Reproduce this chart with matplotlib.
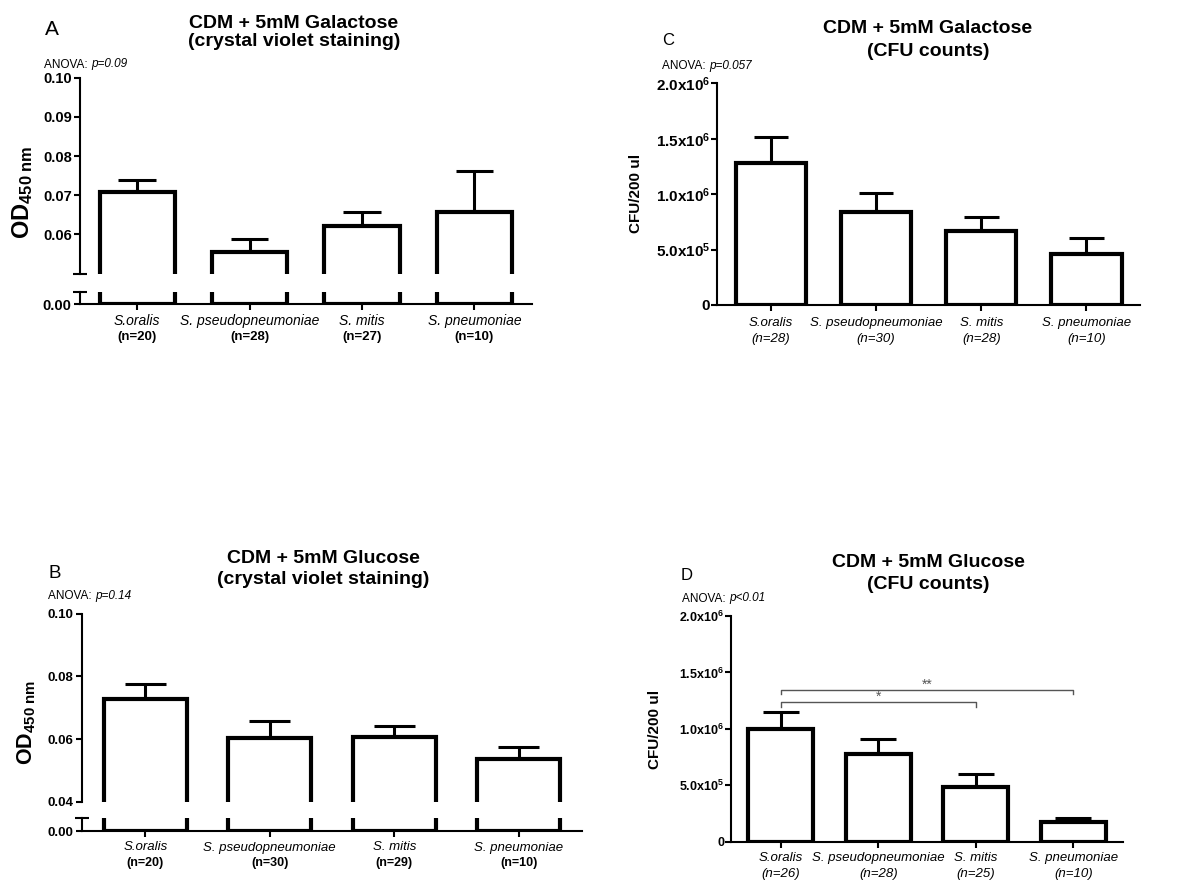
import matplotlib
matplotlib.use('Agg')
import matplotlib.pyplot as plt
from matplotlib.ticker import FixedLocator
import numpy as np

plt.rcParams['font.family'] = ['Liberation Sans', 'DejaVu Sans']
plt.rcParams['mathtext.fontset'] = 'custom'
plt.rcParams['mathtext.rm'] = 'Liberation Sans'
plt.rcParams['mathtext.bf'] = 'Liberation Sans:bold'
plt.rcParams['mathtext.it'] = 'Liberation Sans:italic'

# ---------------- data ----------------
species = ['S.oralis', 'S. pseudopneumoniae', 'S. mitis', 'S. pneumoniae']

n_A = [20, 28, 27, 10]
mean_A = [0.0707, 0.0555, 0.0622, 0.0658]
sem_A = [0.0032, 0.0033, 0.0035, 0.0105]

n_B = [20, 30, 29, 10]
mean_B = [0.0727, 0.0603, 0.0608, 0.0537]
sem_B = [0.0049, 0.0053, 0.0034, 0.0039]

n_C = [28, 30, 28, 10]
mean_C = [1.279e6, 0.842e6, 0.671e6, 0.460e6]
sem_C = [0.240e6, 0.166e6, 0.126e6, 0.142e6]

n_D = [26, 28, 25, 10]
mean_D = [0.996e6, 0.777e6, 0.488e6, 0.172e6]
sem_D = [0.156e6, 0.131e6, 0.110e6, 0.035e6]

# significance brackets in D: (group i, group j, label, height)
sig_D = [(0, 2, '*', 1.236e6), (0, 3, '**', 1.345e6)]

od_ticks_A = [0.06, 0.07, 0.08, 0.09, 0.10]
od_ticks_B = [0.04, 0.06, 0.08, 0.10]
cfu_ticks = [0, 5e5, 1e6, 1.5e6, 2e6]
cfu_labels = ['0', r'$\mathbf{5.0x10^{5}}$', r'$\mathbf{1.0x10^{6}}$',
              r'$\mathbf{1.5x10^{6}}$', r'$\mathbf{2.0x10^{6}}$']

# ---------------- layout helpers ----------------
W, H = 1201, 884
fig = plt.figure(figsize=(W / 100, H / 100), dpi=100)


def rect(l, r, top, bot):
    return [l / W, 1 - bot / H, (r - l) / W, (bot - top) / H]


def ftext(x, y, s, **kw):
    return fig.text(x / W, 1 - y / H, s, **kw)


XLIM = (-0.51, 3.51)
BAR_W = 0.67
LW_BAR = 3.0
LW_ERR = 2.2
LW_SPINE = 1.5


def style_axis(ax):
    for s in ['top', 'right']:
        ax.spines[s].set_visible(False)
    for s in ['left', 'bottom']:
        ax.spines[s].set_linewidth(LW_SPINE)
    ax.tick_params(axis='y', which='major', direction='out', length=4, width=LW_SPINE, pad=2)
    ax.set_xlim(*XLIM)


def draw_bars(ax, means, sems, capw):
    x = np.arange(len(means))
    m = np.array(means)
    e = np.array(sems)
    ax.vlines(x, m, m + e, color='black', lw=LW_ERR, zorder=1)
    ax.hlines(m + e, x - capw / 2, x + capw / 2, color='black', lw=LW_ERR, zorder=1)
    ax.bar(x, m, BAR_W, facecolor='white', edgecolor='black', linewidth=LW_BAR, zorder=2)


def xlabels(ax, names, ns, d1, d2, size, nbold):
    for i, (s, n) in enumerate(zip(names, ns)):
        ax.annotate(s, xy=(i, 0), xycoords=('data', 'axes fraction'), xytext=(0, -d1),
                    textcoords='offset pixels', ha='center', va='center',
                    fontsize=size, fontstyle='italic', annotation_clip=False)
        if nbold:
            ax.annotate('(n=%d)' % n, xy=(i, 0), xycoords=('data', 'axes fraction'),
                        xytext=(0, -d2), textcoords='offset pixels', ha='center',
                        va='center', fontsize=size - 0.5, fontweight='bold',
                        annotation_clip=False)
        else:
            ax.annotate('(n=%d)' % n, xy=(i, 0), xycoords=('data', 'axes fraction'),
                        xytext=(0, -d2), textcoords='offset pixels', ha='center',
                        va='center', fontsize=size, fontstyle='italic',
                        annotation_clip=False)


def anova(x, y, pstr, size=8.5):
    t = ftext(x, y, 'ANOVA: ', fontsize=size, va='baseline', ha='left')
    fig.add_artist(matplotlib.text.Annotation(pstr, xy=(1, 0), xycoords=t, va='bottom',
                                              ha='left', fontsize=size, fontstyle='italic'))


def broken_panel(l, r, top, brk, gtop, zero, ylo_up, yhi_up, ticks_up, yhi_low,
                 means, sems, capw, tsize):
    axu = fig.add_axes(rect(l, r, top, brk))
    axl = fig.add_axes(rect(l, r, gtop, zero))
    for ax in (axu, axl):
        style_axis(ax)
        draw_bars(ax, means, sems, capw)
    axu.spines['bottom'].set_visible(False)
    axu.tick_params(axis='x', bottom=False, labelbottom=False)
    axu.set_ylim(ylo_up, yhi_up)
    axu.yaxis.set_major_locator(FixedLocator(ticks_up))
    axu.set_yticklabels(['%.2f' % t for t in ticks_up], fontweight='bold', fontsize=tsize)
    axu.yaxis.set_minor_locator(FixedLocator([ylo_up]))
    axu.tick_params(axis='y', which='minor', direction='inout', length=10, width=LW_SPINE)

    axl.set_ylim(0, yhi_low)
    axl.yaxis.set_major_locator(FixedLocator([0.0]))
    axl.set_yticklabels(['0.00'], fontweight='bold', fontsize=tsize)
    axl.yaxis.set_minor_locator(FixedLocator([yhi_low]))
    axl.tick_params(axis='y', which='minor', direction='inout', length=10, width=LW_SPINE)
    axl.set_xticks(range(4))
    axl.set_xticklabels([])
    axl.tick_params(axis='x', direction='out', length=4, width=LW_SPINE)
    return axu, axl


# ---------------- Panel A ----------------
axAu, axAl = broken_panel(80, 531.7, 77.7, 273.5, 292, 304.3, 0.05, 0.10, od_ticks_A,
                          12.3 / 3920, mean_A, sem_A, 0.335, 10.5)
xlabels(axAl, species, n_A, 17, 33, 10, True)
ftext(45, 35, 'A', fontsize=15, va='baseline')
ftext(294, 28.3, 'CDM + 5mM Galactose', fontsize=14, fontweight='bold', ha='center', va='baseline')
ftext(294, 46.5, '(crystal violet staining)', fontsize=14, fontweight='bold', ha='center', va='baseline')
anova(44, 67.5, 'p=0.09')
ftext(23, 192, r'$\mathbf{OD}_{\mathbf{450\ nm}}$', fontsize=17, rotation=90, ha='center', va='center')

# ---------------- Panel B ----------------
axBu, axBl = broken_panel(82, 582, 613.7, 801.7, 817.7, 831, 0.04, 0.10, od_ticks_B,
                          13.3 / 3135, mean_B, sem_B, 0.33, 9.5)
xlabels(axBl, species, n_B, 16.5, 32, 9.5, True)
ftext(48, 578, 'B', fontsize=13.5, va='baseline')
ftext(323.6, 563.3, 'CDM + 5mM Glucose', fontsize=14, fontweight='bold', ha='center', va='baseline')
ftext(323.6, 584, '(crystal violet staining)', fontsize=14, fontweight='bold', ha='center', va='baseline')
anova(48, 599, 'p=0.14')
ftext(27, 722, r'$\mathbf{OD}_{\mathbf{450\ nm}}$', fontsize=15.5, rotation=90, ha='center', va='center')


# ---------------- Panels C & D ----------------
def cfu_panel(l, r, top, bot, means, sems, capw, tsize):
    ax = fig.add_axes(rect(l, r, top, bot))
    style_axis(ax)
    draw_bars(ax, means, sems, capw)
    ax.set_ylim(0, 2e6)
    ax.yaxis.set_major_locator(FixedLocator(cfu_ticks))
    ax.set_yticklabels(cfu_labels, fontweight='bold', fontsize=tsize)
    ax.tick_params(axis='y', pad=1)
    ax.set_xticks(range(4))
    ax.set_xticklabels([])
    ax.tick_params(axis='x', direction='out', length=4, width=LW_SPINE)
    return ax


axC = cfu_panel(717.3, 1140, 83.3, 305, mean_C, sem_C, 0.33, 11)
xlabels(axC, species, n_C, 18, 34, 9.5, False)
ftext(662, 45, 'C', fontsize=12, va='baseline')
ftext(928, 33.3, 'CDM + 5mM Galactose', fontsize=14, fontweight='bold', ha='center', va='baseline')
ftext(928, 56, '(CFU counts)', fontsize=14, fontweight='bold', ha='center', va='baseline')
anova(662, 69, 'p=0.057')
ftext(636, 193, 'CFU/200 ul', fontsize=11, fontweight='bold', rotation=90, ha='center', va='center')

axD = cfu_panel(731, 1123, 616, 841.7, mean_D, sem_D, 0.37, 9)
xlabels(axD, species, n_D, 16, 32, 9.5, False)
ftext(681, 580, 'D', fontsize=12, va='baseline')
ftext(928, 566.7, 'CDM + 5mM Glucose', fontsize=14, fontweight='bold', ha='center', va='baseline')
ftext(928, 589, '(CFU counts)', fontsize=14, fontweight='bold', ha='center', va='baseline')
anova(682, 601.5, 'p<0.01')
ftext(655, 729, 'CFU/200 ul', fontsize=11, fontweight='bold', rotation=90, ha='center', va='center')

drop = 0.04e6
for i, j, lab, h in sig_D:
    axD.plot([i, i, j, j], [h - drop, h, h, h - drop], color='#555555', lw=1.0, zorder=3)
    axD.annotate(lab, xy=((i + j) / 2, h), xytext=(0, 1), textcoords='offset pixels',
                 ha='center', va='baseline', fontsize=10, color='#555555')

fig.savefig('out.png', dpi=100)
